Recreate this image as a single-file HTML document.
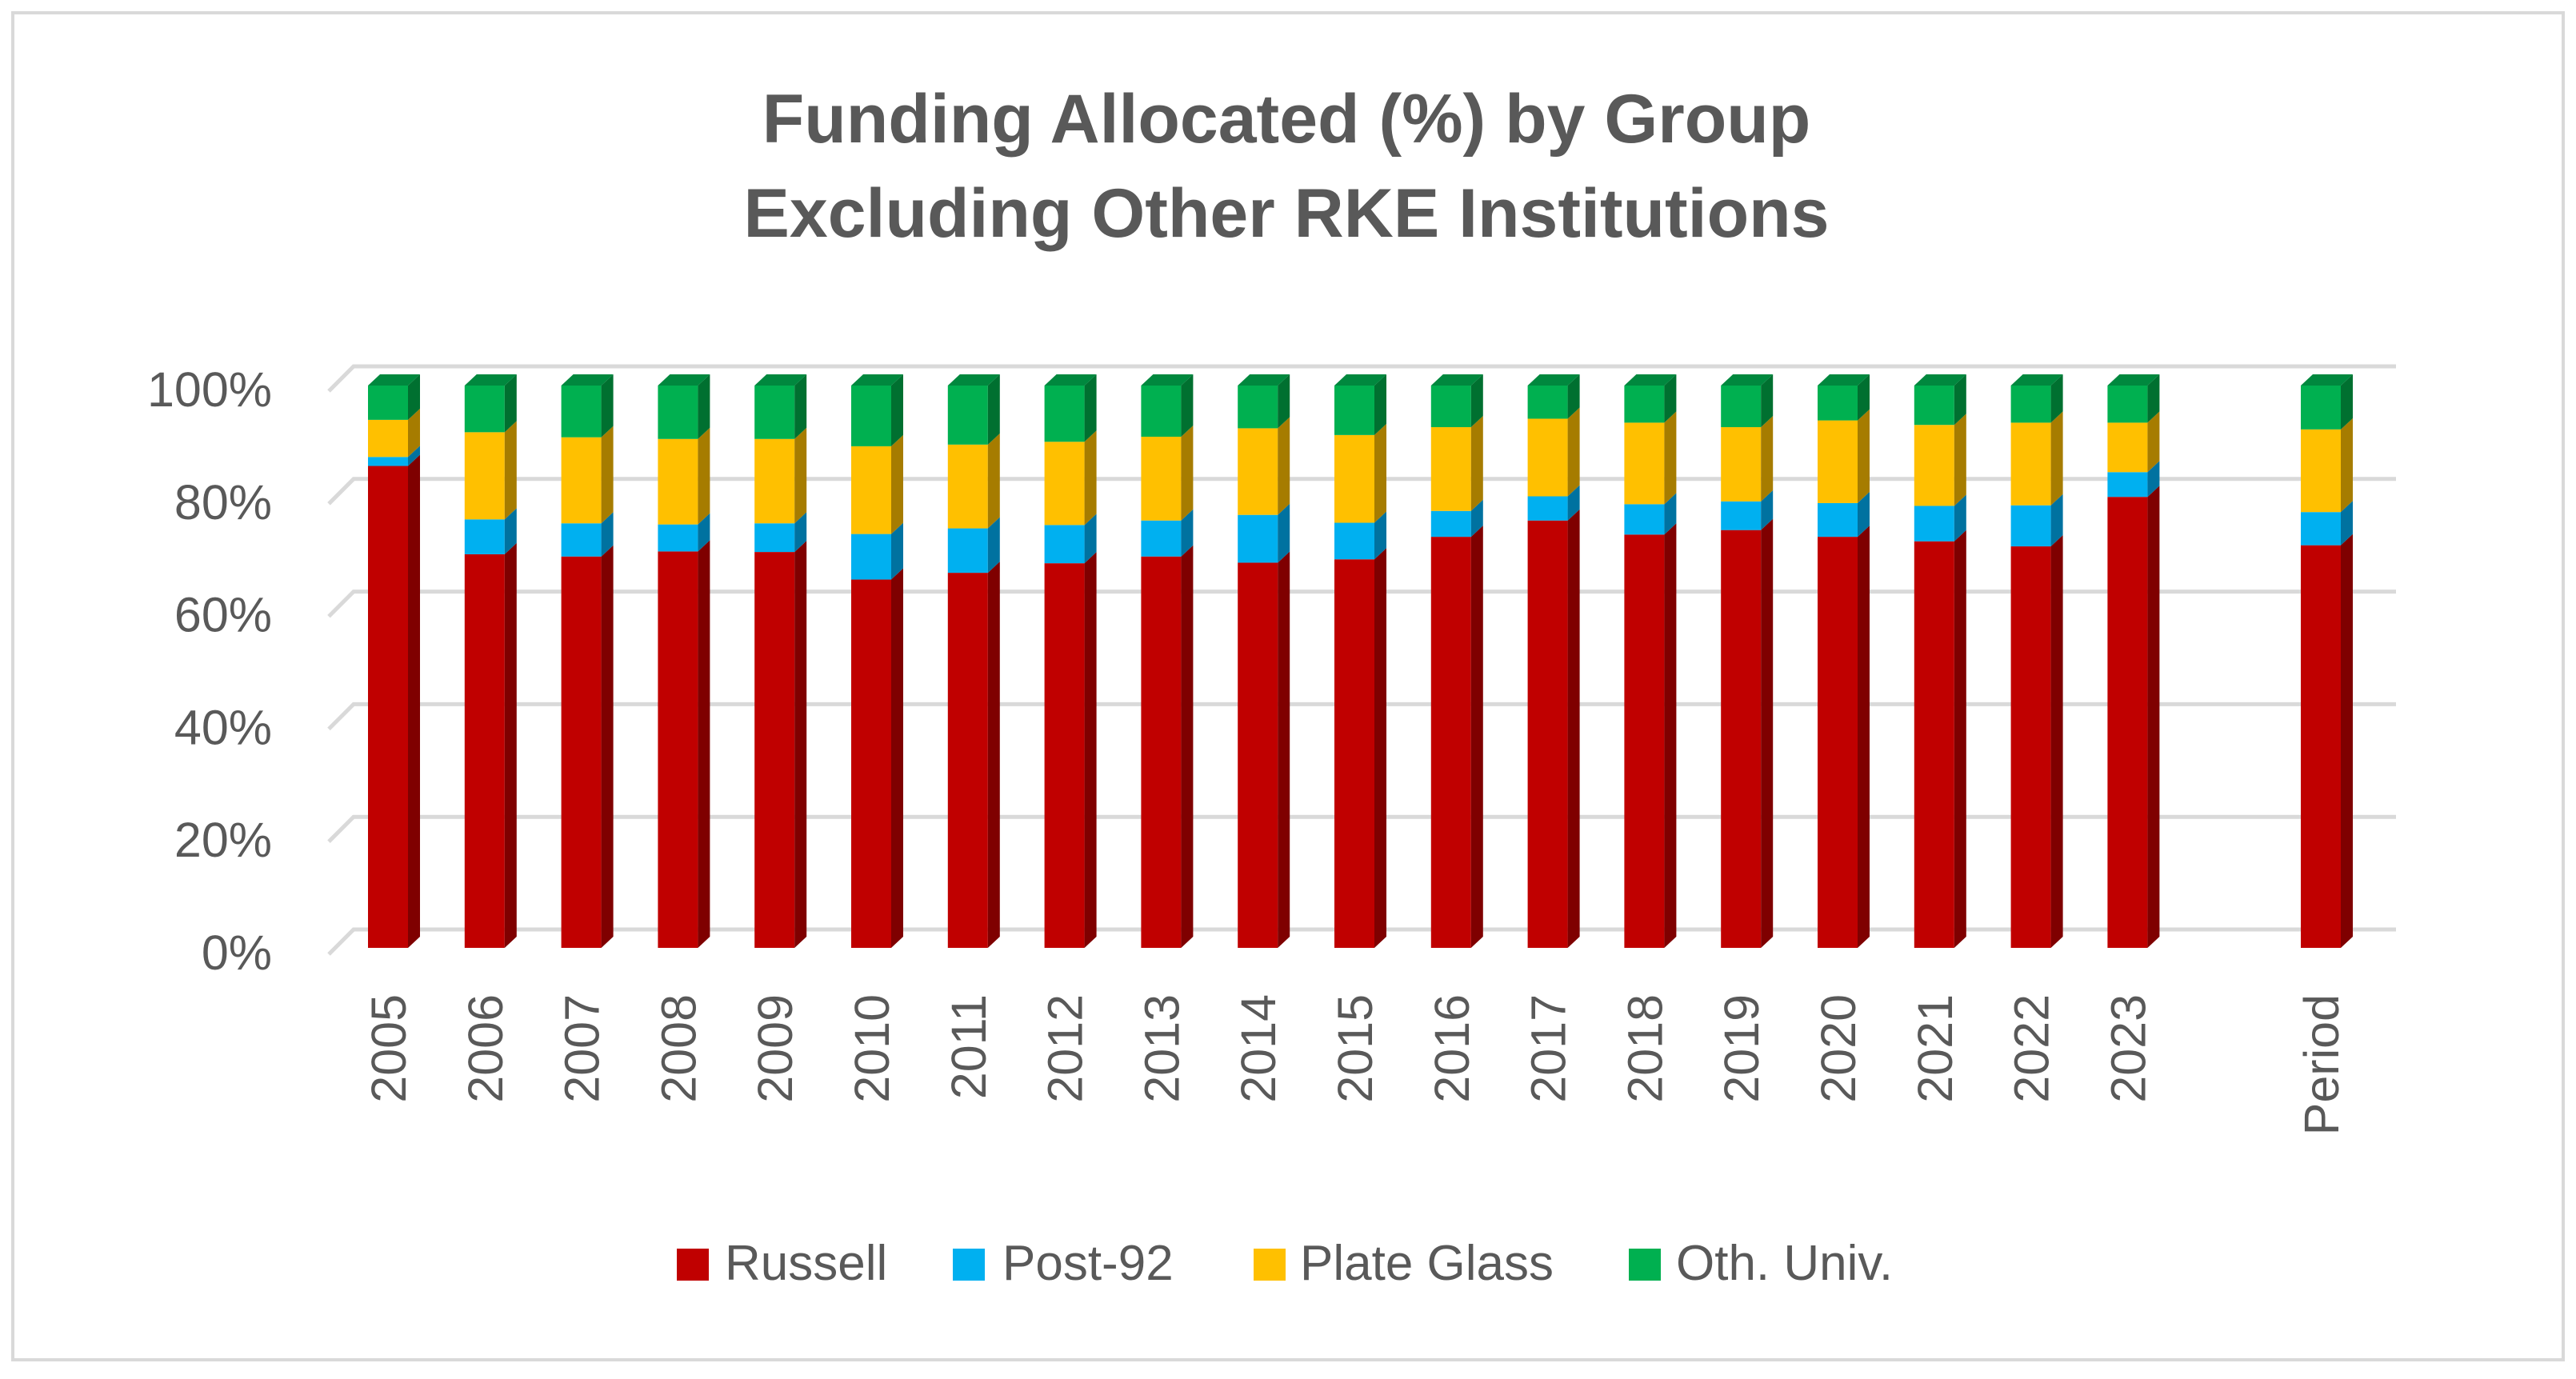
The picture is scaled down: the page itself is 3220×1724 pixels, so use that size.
<!DOCTYPE html>
<html><head><meta charset="utf-8"><style>
html,body{margin:0;padding:0;background:#fff}
svg{display:block}
text{font-family:"Liberation Sans",sans-serif;fill:#595959}
</style></head><body>
<svg id="c" width="3220" height="1724" viewBox="0 0 3220 1724" xmlns="http://www.w3.org/2000/svg">
<rect x="16" y="16" width="3188" height="1684" fill="#fff" stroke="#d9d9d9" stroke-width="4"/>
<text x="1608" y="178" font-size="86" font-weight="bold" text-anchor="middle">Funding Allocated (%) by Group</text>
<text x="1608" y="296" font-size="86" font-weight="bold" text-anchor="middle">Excluding Other RKE Institutions</text>
<g id="grid"></g><g id="yl"></g><g id="bars"></g><g id="xl"></g>
<g>
<rect x="846" y="1561" width="40" height="40" fill="#C00000"/>
<text x="906" y="1600" font-size="62">Russell</text>
<rect x="1191" y="1561" width="40" height="40" fill="#00B0F0"/>
<text x="1253" y="1600" font-size="62">Post-92</text>
<rect x="1567" y="1561" width="40" height="40" fill="#FFC000"/>
<text x="1625" y="1600" font-size="62">Plate Glass</text>
<rect x="2036" y="1561" width="40" height="40" fill="#00B050"/>
<text x="2095" y="1600" font-size="62">Oth. Univ.</text>
</g>
</svg>
<script>
const categories=["2005","2006","2007","2008","2009","2010","2011","2012","2013","2014","2015","2016","2017","2018","2019","2020","2021","2022","2023","","Period"];
const russell=[85.7,70.0,69.6,70.5,70.4,65.5,66.7,68.4,69.6,68.5,69.1,73.1,76.0,73.5,74.3,73.1,72.3,71.4,80.2,null,71.6];
const post92=[1.6,6.2,5.9,4.8,5.1,8.1,7.9,6.8,6.4,8.5,6.5,4.6,4.3,5.4,5.1,6.0,6.3,7.3,4.4,null,5.9];
const plateGlass=[6.6,15.5,15.3,15.2,15.0,15.6,14.9,14.8,14.9,15.4,15.6,14.9,13.8,14.5,13.2,14.7,14.4,14.7,8.8,null,14.7];
const othUniv=[6.1,8.3,9.2,9.5,9.5,10.8,10.5,10.0,9.1,7.6,8.8,7.4,5.9,6.6,7.4,6.2,7.0,6.6,6.6,null,7.8];
const yTicks=[0,20,40,60,80,100];
const NS="http://www.w3.org/2000/svg";
function mk(t,a,p){const e=document.createElementNS(NS,t);for(const k in a)e.setAttribute(k,a[k]);p.appendChild(e);return e;}
const yBack=v=>1162-v*7.04, yFront=v=>1185-v*7.03;
const xBar=i=>460+i*120.8, W=50, DX=15, DY=14;
const grid=document.getElementById('grid'),yl=document.getElementById('yl'),bars=document.getElementById('bars'),xl=document.getElementById('xl');
yTicks.forEach(t=>{
  const y=yBack(t);
  const g=mk('path',{d:`M411 ${y+31} L442 ${y} L2995 ${y}`,stroke:'#d9d9d9','stroke-width':5,fill:'none'},grid);
  
  
  const tx=mk('text',{x:340,y:y+50,'font-size':61,'text-anchor':'end'},yl);
  tx.textContent=t+'%';
  
  
});
const series=[[russell,'#C00000','#7F0000','russell'],[post92,'#00B0F0','#0072A0','post92'],[plateGlass,'#FFC000','#A67C00','plate-glass'],[othUniv,'#00B050','#007030','oth-univ']];
categories.forEach((c,i)=>{
  if(russell[i]!=null){
    let base=0;const x=xBar(i);
    series.forEach((s,si)=>{
      const v=s[0][i];const y0=yFront(base),y1=yFront(base+v);
      const f=mk('rect',{x:x,y:y1,width:W,height:y0-y1,fill:s[1]},bars);
      
      
      const sd=mk('path',{d:`M${x+W} ${y1} L${x+W+DX} ${y1-DY} L${x+W+DX} ${y0-DY} L${x+W} ${y0} Z`,fill:s[2]},bars);
      
      
      base+=v;
      if(si===3){
        const tp=mk('path',{d:`M${x} ${y1} L${x+DX} ${y1-DY} L${x+W+DX} ${y1-DY} L${x+W} ${y1} Z`,fill:'#00883E'},bars);
        
        
      }
    });
  }
  if(c){
    const cx=xBar(i)+W/2+22;
    const t=mk('text',{x:0,y:0,'font-size':61,'text-anchor':'end',transform:`translate(${cx},1243) rotate(-90)`},xl);
    t.textContent=c;
    
    
  }
});
</script>
</body></html>
